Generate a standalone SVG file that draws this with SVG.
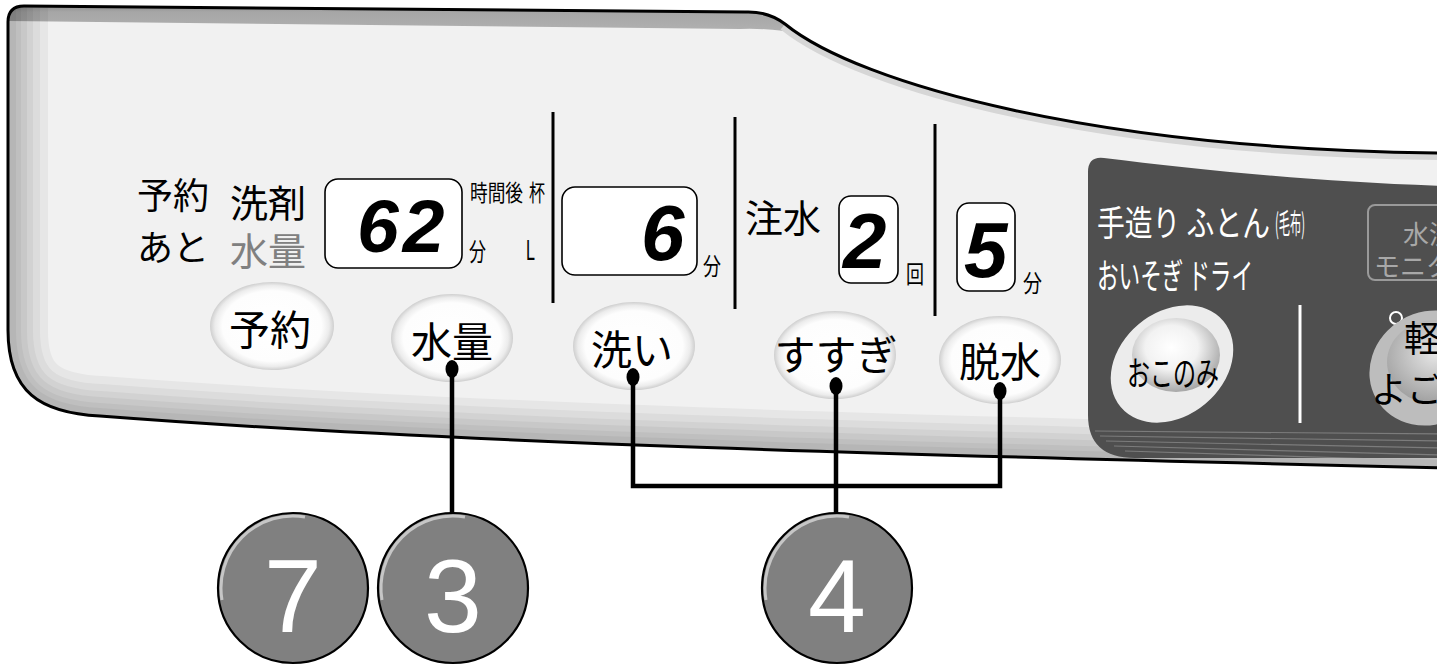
<svg xmlns="http://www.w3.org/2000/svg" width="1437" height="666" viewBox="0 0 1437 666">
<style>
.cjk{font-family:"Noto Sans CJK JP","Noto Sans CJK SC",sans-serif;}
.btn{fill:url(#btnGrad);}
.box{fill:#fff;stroke:#000;stroke-width:1.6;}
.seg{font-family:"Liberation Sans",sans-serif;font-style:italic;font-weight:bold;fill:#000;}
.num{fill:#808080;stroke:#000;stroke-width:2.2;}
.hl{fill:none;stroke:#fff;stroke-opacity:0.55;stroke-width:3;}
.numt{font-family:"Liberation Sans",sans-serif;fill:#fff;font-size:104px;text-anchor:middle;}
.conn{stroke:#000;stroke-width:4.5;fill:none;}
.div{stroke:#000;stroke-width:3;}
.band{fill:none;stroke:#000;stroke-opacity:0.045;}
.wt{fill:#fff;}
</style>
<defs>
<radialGradient id="btnGrad" cx="0.5" cy="0.5" r="0.5">
<stop offset="0" stop-color="#fff"/>
<stop offset="0.8" stop-color="#fdfdfd"/>
<stop offset="0.92" stop-color="#ececec"/>
<stop offset="1" stop-color="#cfcfcf"/>
</radialGradient>
<radialGradient id="sphere" cx="0.45" cy="0.4" r="0.6">
<stop offset="0" stop-color="#fff"/>
<stop offset="0.5" stop-color="#f2f2f2"/>
<stop offset="1" stop-color="#a8a8a8"/>
</radialGradient>
<radialGradient id="sphere2" cx="0.5" cy="0.4" r="0.6">
<stop offset="0" stop-color="#e6e6e6"/>
<stop offset="1" stop-color="#a0a0a0"/>
</radialGradient>
<linearGradient id="topGrad" x1="0" y1="0" x2="0" y2="1">
<stop offset="0" stop-color="#7a7a7a"/>
<stop offset="0.35" stop-color="#a6a6a6"/>
<stop offset="1" stop-color="#b2b2b2"/>
</linearGradient>
<clipPath id="panelClip">
<path d="M 8,330 L 8,22 Q 8,6 24,6 L 745,12 Q 768,11 785,24 C 860,85 1100,150 1445,153 L 1445,468 C 900,455 450,443 100,416 C 40,413 8,392 8,330 Z"/>
</clipPath>
<clipPath id="darkClip">
<path d="M 1088,172 Q 1088,156 1104,158 C 1200,170 1320,182 1445,186 L 1445,458 L 1135,458 Q 1088,458 1088,415 Z"/>
</clipPath>
</defs>

<g id="panel">
<path d="M 8,330 L 8,22 Q 8,6 24,6 L 745,12 Q 768,11 785,24 C 860,85 1100,150 1445,153 L 1445,468 C 900,455 450,443 100,416 C 40,413 8,392 8,330 Z" fill="#f1f1f1"/>
<g clip-path="url(#panelClip)">
<path d="M 0,0 L 775,0 L 800,34 Q 775,28 740,29 L 0,21 Z" fill="url(#topGrad)"/>
<path d="M 785,24 C 860,85 1100,150 1445,153" fill="none" stroke="#d6d6d6" stroke-width="14"/>
<g>
<path class="band" stroke-width="80" d="M 8,-10 L 8,330 C 8,392 40,413 100,416 C 450,443 900,455 1445,468"/>
<path class="band" stroke-width="64" d="M 8,-10 L 8,330 C 8,392 40,413 100,416 C 450,443 900,455 1445,468"/>
<path class="band" stroke-width="50" d="M 8,-10 L 8,330 C 8,392 40,413 100,416 C 450,443 900,455 1445,468"/>
<path class="band" stroke-width="38" d="M 8,-10 L 8,330 C 8,392 40,413 100,416 C 450,443 900,455 1445,468"/>
<path class="band" stroke-width="26" d="M 8,-10 L 8,330 C 8,392 40,413 100,416 C 450,443 900,455 1445,468"/>
<path class="band" stroke-width="16" d="M 8,-10 L 8,330 C 8,392 40,413 100,416 C 450,443 900,455 1445,468"/>
</g>
</g>
<path d="M 8,330 L 8,22 Q 8,6 24,6 L 745,12 Q 768,11 785,24 C 860,85 1100,150 1445,153 L 1445,468 C 900,455 450,443 100,416 C 40,413 8,392 8,330 Z" fill="none" stroke="#000" stroke-width="3"/>
</g>

<g id="dark-panel">
<path d="M 1088,172 Q 1088,156 1104,158 C 1200,170 1320,182 1445,186 L 1445,458 L 1135,458 Q 1088,458 1088,415 Z" fill="#4f4f4f"/>
<g clip-path="url(#darkClip)" stroke="#7c7c7c" stroke-width="1.2">
<line x1="1095" y1="431" x2="1440" y2="434"/>
<line x1="1100" y1="436" x2="1440" y2="441"/>
<line x1="1106" y1="441" x2="1440" y2="448"/>
<line x1="1114" y1="446" x2="1440" y2="455"/>
<line x1="1125" y1="451" x2="1440" y2="461"/>
</g>
<text class="cjk wt" x="1097" y="236" font-size="35" textLength="173" lengthAdjust="spacingAndGlyphs">手造り ふとん</text>
<text class="cjk wt" x="1275" y="234" font-size="28" textLength="30" lengthAdjust="spacingAndGlyphs">(毛布)</text>
<text class="cjk wt" x="1097" y="289" font-size="35" textLength="156" lengthAdjust="spacingAndGlyphs">おいそぎ ドライ</text>
<line x1="1300" y1="305" x2="1300" y2="423" stroke="#fff" stroke-width="3"/>
<rect x="1368" y="205" width="110" height="75" rx="7" fill="none" stroke="#9a9a9a" stroke-width="2"/>
<text class="cjk" x="1403" y="244" font-size="26" fill="#a8a8a8">水洗</text>
<text class="cjk" x="1374" y="276" font-size="26" fill="#a8a8a8">モニタ</text>
</g>

<g id="btn-okonomi">
<ellipse cx="1172" cy="364" rx="67" ry="52" transform="rotate(-40 1172 364)" fill="#ececec"/>
<ellipse cx="1176" cy="355" rx="44" ry="37" fill="url(#sphere)"/>
<text class="cjk" x="1127" y="386" font-size="34" textLength="92" lengthAdjust="spacingAndGlyphs" fill="#000">おこのみ</text>
</g>

<g id="btn-karui">
<circle cx="1396" cy="318" r="6" fill="none" stroke="#fff" stroke-width="2"/>
<ellipse cx="1430" cy="368" rx="62" ry="56" transform="rotate(-30 1430 368)" fill="#bdbdbd"/>
<ellipse cx="1435" cy="362" rx="48" ry="42" fill="url(#sphere2)"/>
<text class="cjk" x="1404" y="352" font-size="36" fill="#000">軽い</text>
<text class="cjk" x="1371" y="403" font-size="36" fill="#000">よごれ</text>
</g>

<g id="labels-left">
<text class="cjk" x="137" y="209" font-size="36" fill="#000">予約</text>
<text class="cjk" x="137" y="261" font-size="36" fill="#000">あと</text>
<text class="cjk" x="230" y="217" font-size="38" fill="#000">洗剤</text>
<text class="cjk" x="230" y="265" font-size="38" fill="#808080">水量</text>
</g>

<g id="display-62">
<rect class="box" x="325" y="179" width="137" height="89" rx="13"/>
<text class="seg" x="357" y="252" font-size="75" letter-spacing="4">62</text>
<text class="cjk" x="470" y="201" font-size="23" textLength="53" lengthAdjust="spacingAndGlyphs">時間後</text>
<text class="cjk" x="529" y="201" font-size="23" textLength="16" lengthAdjust="spacingAndGlyphs">杯</text>
<text class="cjk" x="469" y="261" font-size="25" textLength="17" lengthAdjust="spacingAndGlyphs">分</text>
<text x="526" y="260" font-family="Liberation Sans, sans-serif" font-size="29" textLength="9" lengthAdjust="spacingAndGlyphs">L</text>
</g>

<g id="dividers">
<line class="div" x1="553" y1="112" x2="553" y2="303"/>
<line class="div" x1="735" y1="117" x2="735" y2="309"/>
<line class="div" x1="935" y1="124" x2="935" y2="316"/>
</g>

<g id="display-wash">
<rect class="box" x="562" y="187" width="135" height="88" rx="13"/>
<text class="seg" x="641" y="260" font-size="78">6</text>
<text class="cjk" x="703" y="275" font-size="24" textLength="18" lengthAdjust="spacingAndGlyphs">分</text>
</g>

<g id="display-rinse">
<text class="cjk" x="745" y="232" font-size="38">注水</text>
<rect class="box" x="839" y="196" width="59" height="87" rx="12"/>
<text class="seg" x="843" y="268" font-size="78">2</text>
<text class="cjk" x="906" y="283" font-size="24" textLength="18" lengthAdjust="spacingAndGlyphs">回</text>
</g>

<g id="display-spin">
<rect class="box" x="957" y="203" width="58" height="88" rx="12"/>
<text class="seg" x="964" y="277" font-size="78">5</text>
<text class="cjk" x="1023" y="292" font-size="24" textLength="19" lengthAdjust="spacingAndGlyphs">分</text>
</g>

<g id="btn-yoyaku">
<ellipse class="btn" cx="272" cy="326" rx="62" ry="44"/>
<text class="cjk" x="270" y="345" font-size="41" text-anchor="middle">予約</text>
</g>
<g id="btn-suiryo">
<ellipse class="btn" cx="452" cy="338" rx="61" ry="44"/>
<text class="cjk" x="452" y="357" font-size="41" text-anchor="middle">水量</text>
</g>
<g id="btn-arai">
<ellipse class="btn" cx="634" cy="346" rx="61" ry="44"/>
<text class="cjk" x="632" y="365" font-size="41" text-anchor="middle">洗い</text>
</g>
<g id="btn-susugi">
<ellipse class="btn" cx="835" cy="355" rx="61" ry="44"/>
<text class="cjk" x="836" y="370" font-size="41" text-anchor="middle">すすぎ</text>
</g>
<g id="btn-dassui">
<ellipse class="btn" cx="1000" cy="360" rx="61" ry="44"/>
<text class="cjk" x="1000" y="377" font-size="41" text-anchor="middle">脱水</text>
</g>

<g id="connectors">
<path class="conn" d="M 452,370 V 513"/>
<path class="conn" d="M 633,378 V 486 H 1000 V 392"/>
<path class="conn" d="M 836,387 V 513"/>
<ellipse cx="452" cy="369" rx="6.5" ry="9"/>
<ellipse cx="633" cy="377" rx="6.5" ry="9"/>
<ellipse cx="836" cy="386" rx="6.5" ry="9"/>
<ellipse cx="1000" cy="391" rx="6.5" ry="9"/>
</g>

<g id="step-7">
<circle class="num" cx="293" cy="588" r="75"/>
<path class="hl" d="M 222,600 A 72,72 0 0 1 305,517"/>
<text class="numt" x="293" y="632">7</text>
</g>
<g id="step-3">
<circle class="num" cx="453" cy="588" r="75"/>
<path class="hl" d="M 382,600 A 72,72 0 0 1 465,517"/>
<text class="numt" x="453" y="632">3</text>
</g>
<g id="step-4">
<circle class="num" cx="837" cy="588" r="75"/>
<path class="hl" d="M 766,600 A 72,72 0 0 1 849,517"/>
<text class="numt" x="837" y="632">4</text>
</g>
</svg>
